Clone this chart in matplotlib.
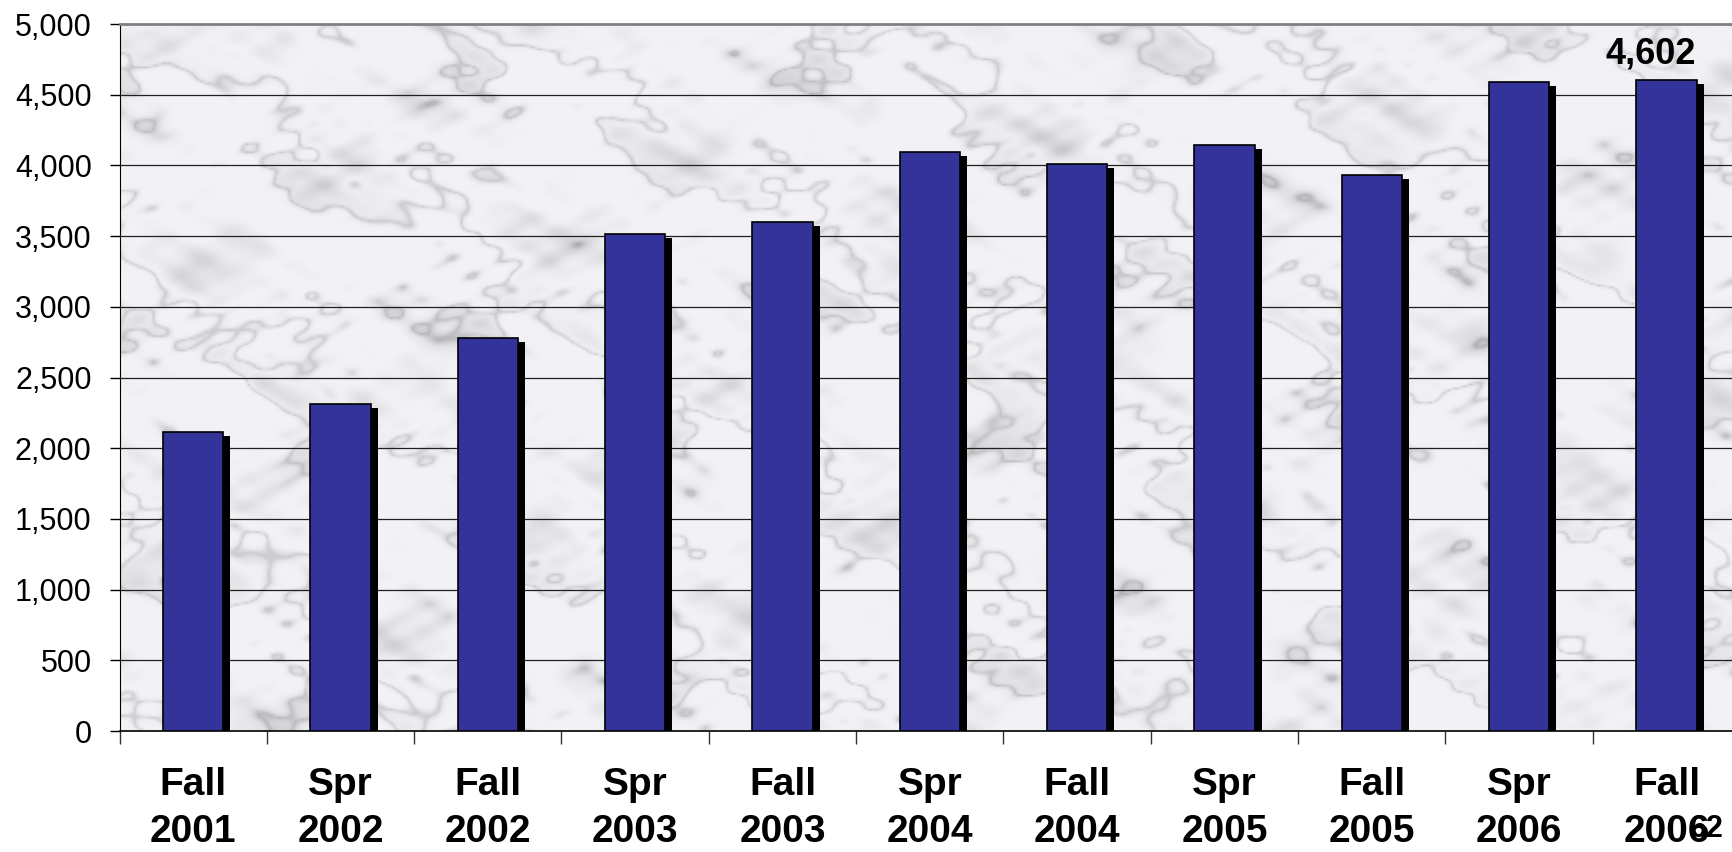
import numpy as np
import matplotlib
matplotlib.use("Agg")
import matplotlib.pyplot as plt
from matplotlib.ticker import FuncFormatter

# terms and headcount
terms = ["Fall\n2001", "Spr\n2002", "Fall\n2002", "Spr\n2003", "Fall\n2003", "Spr\n2004",
         "Fall\n2004", "Spr\n2005", "Fall\n2005", "Spr\n2006", "Fall\n2006"]
counts = [2115, 2312, 2782, 3515, 3600, 4095, 4010, 4142, 3930, 4590, 4602]
yticks = [0, 500, 1000, 1500, 2000, 2500, 3000, 3500, 4000, 4500, 5000]
label_value = 4602
page_no = "62"

plt.rcParams['font.family'] = ['Liberation Sans', 'DejaVu Sans']

fig = plt.figure(figsize=(17.32, 8.52), dpi=100)
ax = fig.add_axes([0.069, 0.142, 0.9357, 0.8298])

x = np.arange(len(terms))

# light marble-like backdrop (fixed sine mix, decorative only)
gy, gx = np.mgrid[0:1:350j, 0:1:800j]
waves = [(31, 17, 0.3), (-23, 41, 1.7), (57, -13, 2.9), (-71, 64, 0.8), (89, 52, 4.1),
         (-113, 37, 5.3), (127, -98, 2.2), (-151, 133, 3.6), (173, 71, 1.1), (-197, -160, 0.5),
         (211, 187, 2.6), (-239, 121, 4.7)]
noise = np.zeros_like(gx)
for i, (fx, fy, ph) in enumerate(waves):
    noise += np.sin(fx * gx + fy * gy + ph) / (1 + 0.35 * i)
noise /= np.abs(noise).max()
streak = np.abs(np.sin(14 * gx - 9 * gy + 2.2 * noise))
shade = 0.95 - 0.17 * np.clip(noise, 0, 1) ** 1.5 - 0.16 * (1 - streak) ** 8
bg = np.dstack([shade, shade, shade + 0.015]).clip(0, 1)
ax.imshow(bg, extent=[0, 1, 0, 1], transform=ax.transAxes, aspect='auto',
          zorder=0, interpolation='bilinear')

# grid lines
for v in yticks[1:-1]:
    ax.axhline(v, color='#202020', lw=0.9, zorder=1)

# drop shadow then bars
px_x = 11 / 1620.6   # data units per pixel, horizontal
px_y = 5000 / 707.0  # data units per pixel, vertical
shadow = [c - 4 * px_y for c in counts]
ax.bar(x + 7 * px_x, shadow, width=0.41, color='black', zorder=2)
ax.bar(x, counts, width=0.41, color='#333399', edgecolor='black', linewidth=1.2, zorder=3)

ax.annotate(f"{label_value:,}", xy=(x[-1], label_value), xytext=(-11, 6),
            textcoords='offset points', ha='center', va='bottom',
            fontsize=26, fontweight='bold', zorder=4)

ax.set_xlim(-0.5, len(terms) - 0.5)
ax.set_ylim(0, 5000)
ax.set_yticks(yticks)
ax.yaxis.set_major_formatter(FuncFormatter(lambda v, p: f"{int(v):,}"))
ax.tick_params(axis='y', length=7, width=1, pad=13, labelsize=22, direction='out')

ax.set_xticks(x)
ax.set_xticklabels(terms, fontsize=28, fontweight='bold', linespacing=1.38)
ax.set_xticks(np.arange(-0.5, len(terms), 1), minor=True)
ax.tick_params(axis='x', which='major', length=0, pad=26)
ax.tick_params(axis='x', which='minor', length=9, width=1, color='#333333')

ax.spines['right'].set_visible(False)
ax.spines['top'].set_color('#808080')
ax.spines['top'].set_linewidth(2)
ax.spines['left'].set_color('black')
ax.spines['bottom'].set_color('black')
ax.spines['bottom'].set_linewidth(1.2)

fig.text(0.9757, 0.0176, page_no, fontsize=22, fontweight='bold', ha='left', va='baseline')

fig.savefig("out.png", dpi=100)
